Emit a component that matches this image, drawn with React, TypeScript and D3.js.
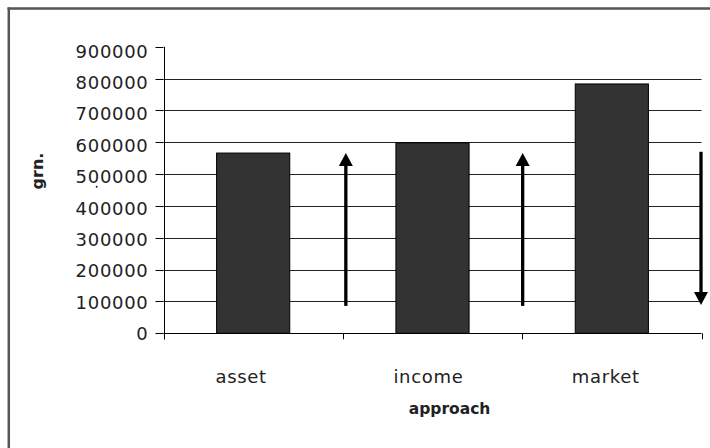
import React from "react";
import * as d3 from "d3";

const categories = ["asset", "income", "market"];
const values = [566000, 598000, 783000];
const yTicks = [0, 100000, 200000, 300000, 400000, 500000, 600000, 700000, 800000, 900000];
const gridValues = [100000, 200000, 300000, 400000, 500000, 600000, 700000, 800000];
// arrows: [category boundary index, from value, to value]
const arrowBoundary = [1, 2, 3];
const arrowFrom = [86000, 86000, 570000];
const arrowTo = [566000, 566000, 89000];
const xTitle = "approach";
const yTitle = "grn.";

// layout-only nudges for the category labels (as rendered in the reference)
const LABEL_DX = [-12, -4, -6];
const ARROW_DX = [3, 0.5, -0.5];

export default function App() {
  const W = 710, H = 448;
  const left = 163.5, right = 701.5, top = 46.7, bottom = 333.3;
  const y = d3.scaleLinear().domain([0, 900000]).range([bottom, top]);
  const yLab = d3.scaleLinear().domain([0, 900000]).range([340.2, 57.5]);
  const x = d3.scaleBand().domain(categories).range([left, right]).paddingInner(0).paddingOuter(0);
  const bw = x.bandwidth();
  const barW = bw * 0.408;
  const boundaries = d3.range(categories.length + 1).map((i) => left + i * bw);
  const font = "'DejaVu Sans', Verdana, sans-serif";
  const px = (v: number) => Math.round(v) + 0.5;
  return (
    <svg width={W} height={H} style={{ position: "absolute", left: 0, top: 0, background: "#fff" }}>
      <line x1={8.8} y1={7.5} x2={8.8} y2={H} stroke="#555" strokeWidth={2.5} />
      <line x1={7.5} y1={8.5} x2={W} y2={8.5} stroke="#555" strokeWidth={2.5} />
      {gridValues.map((v) => (
        <line key={v} x1={left} x2={right} y1={px(y(v))} y2={px(y(v))} stroke="#222" strokeWidth={1} />
      ))}
      {categories.map((c, i) => (
        <rect
          key={c}
          x={(x(c) as number) + (bw - barW) / 2}
          y={y(values[i])}
          width={barW}
          height={bottom - y(values[i])}
          fill="#333"
          stroke="#000"
          strokeWidth={1}
        />
      ))}
      <line x1={px(left)} x2={px(left)} y1={top} y2={bottom + 6} stroke="#000" strokeWidth={1} />
      <line x1={left} x2={right} y1={px(bottom)} y2={px(bottom)} stroke="#000" strokeWidth={1} />
      {yTicks.map((v) => (
        <g key={v}>
          <line x1={left - 8} x2={left} y1={px(y(v))} y2={px(y(v))} stroke="#000" strokeWidth={1} />
          <text x={148.5} y={yLab(v)} textAnchor="end" fontFamily={font} fontSize={18} letterSpacing={0.7} fill="#222">
            {String(v)}
          </text>
        </g>
      ))}
      {boundaries.map((bx, i) => (
        <line key={i} x1={px(bx)} x2={px(bx)} y1={bottom} y2={bottom + 6} stroke="#000" strokeWidth={1} />
      ))}
      {categories.map((c, i) => (
        <text key={c} x={(x(c) as number) + bw / 2 + LABEL_DX[i]} y={383.3} textAnchor="middle" fontFamily={font} fontSize={18} letterSpacing={0.7} fill="#222">
          {c}
        </text>
      ))}
      <text x={449.6} y={414} textAnchor="middle" fontFamily={font} fontSize={15.5} fontWeight="bold" fill="#222">
        {xTitle}
      </text>
      <text transform={`translate(43,171) rotate(-90)`} textAnchor="middle" fontFamily={font} fontSize={16} fontWeight="bold" fill="#222">
        {yTitle}
      </text>
      <circle cx={96.7} cy={186.7} r={1} fill="#222" />
      {arrowBoundary.map((bi, i) => {
        const ax = boundaries[bi] + ARROW_DX[i];
        const y0 = y(arrowFrom[i]), y1 = y(arrowTo[i]);
        const dir = y1 < y0 ? -1 : 1;
        const headH = 13, headW = 7;
        return (
          <g key={i}>
            <line x1={ax} x2={ax} y1={y0} y2={y1 - dir * headH + dir * 1} stroke="#000" strokeWidth={3.3} />
            <path d={`M${ax},${y1} L${ax - headW},${y1 - dir * headH} L${ax + headW},${y1 - dir * headH} Z`} fill="#000" />
          </g>
        );
      })}
    </svg>
  );
}
